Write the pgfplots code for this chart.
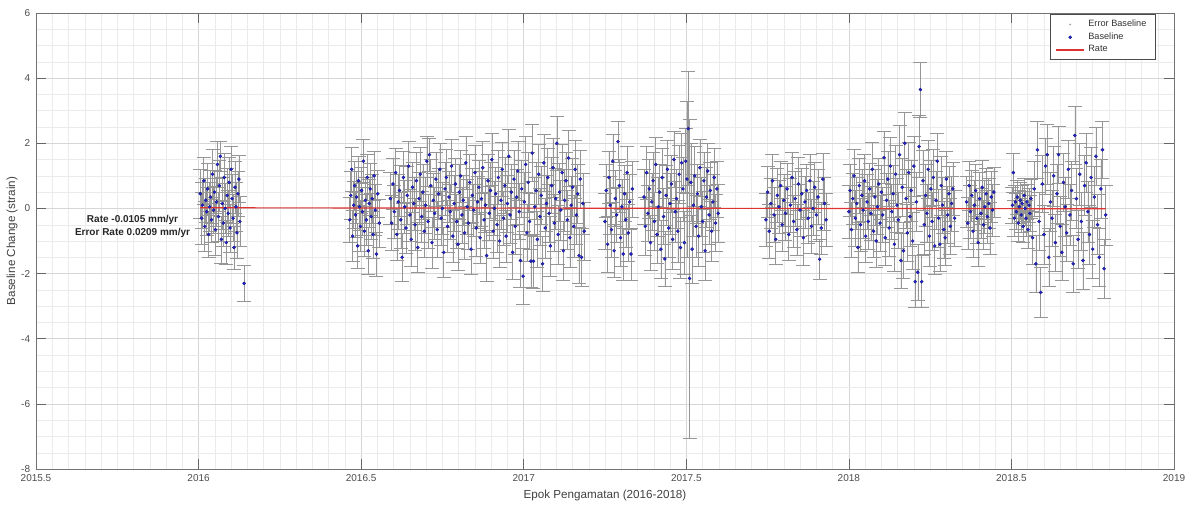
\documentclass[border=0pt]{standalone}
\usepackage{fontspec}
\setmainfont{Liberation Sans}
\usepackage{pgfplots}
\usepackage{pgfplotstable}
\pgfplotsset{compat=1.18}

\definecolor{ratered}{RGB}{225,50,50}
\definecolor{dotblue}{RGB}{35,35,215}
\definecolor{errgray}{RGB}{150,150,150}

% x = epoch (year), y = baseline change, e = error
\pgfplotstableread[row sep=\\]{
x y e\\
2016.005 0.45 0.75\\ 2016.009 -0.30 0.80\\ 2016.012 0.10 0.70\\ 2016.016 0.85 0.72\\ 2016.019 -0.55 0.78\\
2016.022 0.25 0.68\\ 2016.025 -0.10 0.74\\ 2016.028 0.60 0.80\\ 2016.031 -0.80 0.70\\ 2016.034 0.05 0.76\\
2016.037 0.35 0.82\\ 2016.040 -0.35 0.70\\ 2016.043 1.05 0.78\\ 2016.046 -0.05 0.72\\ 2016.049 0.50 0.66\\
2016.052 -0.65 0.80\\ 2016.055 0.20 0.74\\ 2016.058 1.35 0.70\\ 2016.061 -0.25 0.76\\ 2016.064 0.70 0.78\\
2016.067 1.60 0.45\\ 2016.070 -0.95 0.72\\ 2016.073 0.15 0.80\\ 2016.076 -0.45 0.70\\ 2016.079 0.95 0.74\\
2016.082 0.00 0.76\\ 2016.085 -1.05 0.68\\ 2016.088 0.40 0.82\\ 2016.091 -0.15 0.72\\ 2016.094 0.80 0.78\\
2016.097 -0.60 0.74\\ 2016.100 1.20 0.70\\ 2016.103 0.30 0.76\\ 2016.106 -0.30 0.72\\ 2016.109 -1.20 0.66\\
2016.112 0.65 0.80\\ 2016.115 0.05 0.74\\ 2016.118 -0.75 0.78\\ 2016.121 0.45 0.70\\ 2016.124 0.90 0.72\\
2016.127 -0.40 0.76\\ 2016.140 -2.30 0.55\\
2016.465 -0.35 0.70\\ 2016.468 0.40 0.74\\ 2016.471 1.20 0.68\\ 2016.474 -0.85 0.78\\ 2016.477 0.10 0.72\\
2016.480 0.70 0.76\\ 2016.483 -0.20 0.70\\ 2016.486 0.35 0.80\\ 2016.489 -1.15 0.70\\ 2016.492 0.85 0.74\\
2016.495 0.05 0.72\\ 2016.498 -0.55 0.78\\ 2016.501 0.55 0.70\\ 2016.504 -0.10 0.74\\ 2016.507 1.45 0.66\\
2016.510 -0.70 0.76\\ 2016.513 0.25 0.72\\ 2016.516 -0.35 0.78\\ 2016.519 0.95 0.70\\ 2016.522 -1.30 0.72\\
2016.525 0.15 0.74\\ 2016.528 0.60 0.80\\ 2016.531 -0.25 0.70\\ 2016.534 0.30 0.76\\ 2016.537 -0.80 0.72\\
2016.540 1.00 0.74\\ 2016.543 -0.05 0.78\\ 2016.547 -1.40 0.68\\ 2016.551 0.45 0.72\\ 2016.556 -0.45 0.74\\
2016.590 0.30 0.80\\ 2016.594 -0.45 0.85\\ 2016.598 0.75 0.78\\ 2016.602 -0.10 0.82\\ 2016.606 1.10 0.76\\
2016.610 -0.80 0.80\\ 2016.614 0.20 0.84\\ 2016.618 0.55 0.78\\ 2016.622 -0.35 0.86\\ 2016.626 -1.50 0.74\\
2016.630 0.95 0.80\\ 2016.634 0.05 0.82\\ 2016.638 -0.60 0.78\\ 2016.642 0.40 0.88\\ 2016.646 1.30 0.76\\
2016.650 -0.20 0.80\\ 2016.654 -0.95 0.84\\ 2016.658 0.65 0.78\\ 2016.662 0.15 0.82\\ 2016.666 -0.50 0.80\\
2016.670 0.85 0.86\\ 2016.674 -1.20 0.76\\ 2016.678 0.30 0.80\\ 2016.682 1.05 0.82\\ 2016.686 -0.25 0.78\\
2016.690 0.50 0.84\\ 2016.694 -0.70 0.80\\ 2016.698 0.10 0.86\\ 2016.702 1.45 0.76\\ 2016.706 -0.40 0.82\\
2016.710 1.65 0.50\\ 2016.714 0.70 0.80\\ 2016.718 -1.05 0.78\\ 2016.722 0.25 0.84\\ 2016.726 -0.15 0.80\\
2016.730 0.90 0.82\\ 2016.734 -0.65 0.86\\ 2016.738 0.45 0.78\\ 2016.742 1.20 0.80\\ 2016.746 -0.30 0.84\\
2016.750 0.00 0.80\\ 2016.754 -1.35 0.76\\ 2016.758 0.60 0.82\\ 2016.762 0.95 0.86\\ 2016.766 -0.55 0.80\\
2016.770 0.35 0.78\\ 2016.774 -0.10 0.84\\ 2016.778 1.30 0.82\\ 2016.782 -0.85 0.80\\ 2016.786 0.15 0.86\\
2016.790 0.75 0.78\\ 2016.794 -0.40 0.82\\ 2016.798 -1.10 0.80\\ 2016.802 0.50 0.84\\ 2016.806 1.00 0.80\\
2016.810 -0.20 0.86\\ 2016.814 0.25 0.78\\ 2016.818 -0.75 0.82\\ 2016.822 1.40 0.80\\ 2016.826 0.05 0.84\\
2016.830 -0.45 0.80\\ 2016.834 0.80 0.86\\ 2016.838 -1.25 0.78\\ 2016.842 0.40 0.82\\ 2016.846 -0.05 0.80\\
2016.850 1.10 0.84\\ 2016.854 -0.60 0.86\\ 2016.858 0.20 0.80\\ 2016.862 0.65 0.82\\ 2016.866 -0.90 0.78\\
2016.870 0.30 0.84\\ 2016.874 1.25 0.80\\ 2016.878 -0.35 0.86\\ 2016.882 0.10 0.82\\ 2016.886 -1.45 0.78\\
2016.890 0.85 0.80\\ 2016.894 -0.15 0.84\\ 2016.898 0.55 0.86\\ 2016.902 1.50 0.80\\ 2016.906 -0.70 0.82\\
2016.910 0.00 0.84\\ 2016.914 0.45 0.80\\ 2016.918 -0.50 0.86\\ 2016.922 0.95 0.82\\ 2016.926 -1.00 0.80\\
2016.930 0.25 0.88\\ 2016.934 1.20 0.84\\ 2016.938 -0.30 0.82\\ 2016.942 0.70 0.86\\ 2016.946 -0.85 0.80\\
2016.950 0.15 0.88\\ 2016.954 1.60 0.82\\ 2016.958 -0.20 0.86\\ 2016.962 0.50 0.84\\ 2016.966 -1.35 0.82\\
2016.970 0.90 0.88\\ 2016.974 -0.55 0.86\\ 2016.978 0.35 0.84\\ 2016.982 1.15 0.90\\ 2016.986 -0.10 0.86\\
2016.990 -1.60 0.82\\ 2016.994 0.60 0.88\\ 2016.998 -2.08 0.85\\ 2017.002 0.20 0.90\\ 2017.006 1.35 0.86\\
2017.010 -0.75 0.88\\ 2017.014 0.80 0.92\\ 2017.018 -0.40 0.86\\ 2017.022 -1.62 0.80\\ 2017.026 1.70 0.88\\
2017.030 -1.62 0.84\\ 2017.034 0.05 0.90\\ 2017.038 0.55 0.88\\ 2017.042 -0.95 0.86\\ 2017.046 1.05 0.92\\
2017.050 -0.25 0.88\\ 2017.054 0.40 0.90\\ 2017.058 -1.70 0.84\\ 2017.062 1.40 0.88\\ 2017.066 -0.60 0.92\\
2017.070 0.15 0.86\\ 2017.074 0.95 0.90\\ 2017.078 -0.15 0.88\\ 2017.082 -1.15 0.92\\ 2017.086 0.70 0.86\\
2017.090 1.25 0.90\\ 2017.094 -0.45 0.88\\ 2017.098 0.30 0.94\\ 2017.102 2.00 0.82\\ 2017.106 -0.80 0.90\\
2017.110 0.50 0.88\\ 2017.114 -0.05 0.92\\ 2017.118 1.10 0.86\\ 2017.122 -1.30 0.90\\ 2017.126 0.25 0.94\\
2017.130 0.85 0.88\\ 2017.134 -0.35 0.90\\ 2017.138 1.55 0.86\\ 2017.142 -0.90 0.92\\ 2017.146 0.10 0.88\\
2017.150 0.65 0.90\\ 2017.154 -0.55 0.94\\ 2017.158 1.20 0.88\\ 2017.162 -0.20 0.90\\ 2017.166 0.45 0.92\\
2017.170 -1.45 0.86\\ 2017.174 0.90 0.90\\ 2017.178 -1.50 0.88\\ 2017.182 0.15 0.94\\ 2017.186 -0.70 0.90\\
2017.250 -0.40 0.85\\ 2017.254 0.55 0.82\\ 2017.258 -1.10 0.86\\ 2017.262 0.95 0.80\\ 2017.266 0.10 0.88\\
2017.270 -0.65 0.84\\ 2017.274 1.45 0.82\\ 2017.278 -1.30 0.80\\ 2017.282 0.30 0.86\\ 2017.286 -0.20 0.84\\
2017.290 2.05 0.62\\ 2017.294 0.70 0.82\\ 2017.298 -0.90 0.88\\ 2017.302 0.05 0.84\\ 2017.306 -1.40 0.80\\
2017.310 0.45 0.86\\ 2017.314 -0.35 0.84\\ 2017.318 1.10 0.82\\ 2017.322 -0.75 0.88\\ 2017.326 0.20 0.84\\
2017.330 -1.40 0.80\\ 2017.334 0.60 0.86\\
2017.370 0.35 0.85\\ 2017.374 -0.55 0.88\\ 2017.378 1.10 0.82\\ 2017.382 -0.15 0.86\\ 2017.386 0.60 0.90\\
2017.390 -1.05 0.84\\ 2017.394 0.20 0.88\\ 2017.398 0.85 0.86\\ 2017.402 -0.40 0.90\\ 2017.406 1.35 0.84\\
2017.410 -0.80 0.88\\ 2017.414 0.05 0.92\\ 2017.418 0.50 0.86\\ 2017.422 -1.25 0.88\\ 2017.426 0.95 0.90\\
2017.430 -0.25 0.86\\ 2017.434 -1.55 0.84\\ 2017.438 0.40 0.92\\ 2017.442 1.20 0.88\\ 2017.446 -0.60 0.90\\
2017.450 0.15 0.94\\ 2017.454 0.75 0.88\\ 2017.458 -0.95 0.92\\ 2017.462 1.50 0.86\\ 2017.466 -0.10 0.94\\
2017.470 0.30 0.90\\ 2017.474 -0.70 0.96\\ 2017.478 1.05 0.90\\ 2017.482 -1.20 0.94\\ 2017.486 1.40 0.92\\
2017.490 0.60 0.98\\ 2017.494 -1.05 0.96\\ 2017.498 1.45 1.00\\ 2017.502 0.90 2.40\\ 2017.506 2.45 1.75\\
2017.510 -2.15 4.90\\ 2017.514 0.80 1.20\\ 2017.518 -1.25 1.05\\ 2017.522 0.10 0.96\\ 2017.526 1.00 0.92\\
2017.530 -0.55 0.94\\ 2017.534 0.45 0.90\\ 2017.538 -0.85 0.92\\ 2017.542 1.25 0.88\\ 2017.546 0.05 0.90\\
2017.550 -0.40 0.94\\ 2017.554 0.85 0.88\\ 2017.558 -1.30 0.90\\ 2017.562 0.35 0.92\\ 2017.566 1.15 0.86\\
2017.570 -0.20 0.90\\ 2017.574 0.55 0.88\\ 2017.578 -0.70 0.92\\ 2017.582 0.20 0.86\\ 2017.586 0.95 0.90\\
2017.590 -0.45 0.88\\ 2017.594 0.60 0.86\\ 2017.598 -0.15 0.90\\
2017.745 -0.35 0.80\\ 2017.750 0.50 0.78\\ 2017.755 -0.70 0.82\\ 2017.760 0.15 0.76\\ 2017.765 0.85 0.80\\
2017.770 -0.20 0.84\\ 2017.775 -0.95 0.78\\ 2017.780 0.40 0.82\\ 2017.785 0.05 0.80\\ 2017.790 0.70 0.76\\
2017.795 -0.50 0.82\\ 2017.800 0.25 0.80\\ 2017.805 -0.15 0.84\\ 2017.810 0.60 0.78\\ 2017.815 -0.80 0.80\\
2017.820 0.10 0.82\\ 2017.825 0.95 0.76\\ 2017.830 -0.40 0.80\\ 2017.835 0.30 0.84\\ 2017.840 -0.65 0.78\\
2017.845 0.75 0.82\\ 2017.850 -0.05 0.80\\ 2017.855 0.45 0.78\\ 2017.860 -0.90 0.84\\ 2017.865 0.20 0.80\\
2017.870 0.55 0.82\\ 2017.875 -0.30 0.78\\ 2017.880 0.85 0.80\\ 2017.885 -0.55 0.84\\ 2017.890 0.00 0.82\\
2017.895 0.65 0.78\\ 2017.900 -0.20 0.80\\ 2017.905 0.35 0.84\\ 2017.910 -1.56 0.62\\ 2017.915 -0.60 0.80\\
2017.920 0.90 0.78\\ 2017.925 0.15 0.82\\ 2017.930 -0.35 0.80\\
2018.000 -0.10 0.82\\ 2018.004 0.55 0.80\\ 2018.008 -0.65 0.84\\ 2018.012 0.30 0.78\\ 2018.016 1.00 0.82\\
2018.020 -0.30 0.86\\ 2018.024 0.15 0.80\\ 2018.028 -1.20 0.76\\ 2018.032 0.70 0.84\\ 2018.036 -0.50 0.82\\
2018.040 0.40 0.80\\ 2018.044 -0.05 0.86\\ 2018.048 0.85 0.82\\ 2018.052 -0.85 0.80\\ 2018.056 0.20 0.84\\
2018.060 -0.40 0.86\\ 2018.064 0.60 0.80\\ 2018.068 -0.15 0.82\\ 2018.072 1.20 0.84\\ 2018.076 -0.70 0.80\\
2018.080 0.35 0.86\\ 2018.084 -1.00 0.82\\ 2018.088 0.05 0.84\\ 2018.092 0.75 0.80\\ 2018.096 -0.45 0.86\\
2018.100 0.50 0.82\\ 2018.104 -0.20 0.84\\ 2018.108 1.56 0.80\\ 2018.112 -0.90 0.86\\ 2018.116 0.25 0.82\\
2018.120 0.90 0.84\\ 2018.124 -0.60 0.86\\ 2018.128 1.30 0.88\\ 2018.132 -0.10 0.84\\ 2018.136 0.45 0.86\\
2018.140 -1.10 0.82\\ 2018.144 1.05 0.88\\ 2018.148 0.10 0.84\\ 2018.152 -0.35 0.86\\ 2018.156 1.65 0.90\\
2018.160 -1.60 0.84\\ 2018.164 0.65 0.88\\ 2018.168 -1.30 0.86\\ 2018.172 2.00 0.95\\ 2018.176 0.30 0.90\\
2018.180 -0.75 0.88\\ 2018.184 1.10 0.92\\ 2018.188 -0.25 0.90\\ 2018.192 0.55 0.94\\ 2018.196 -1.00 0.88\\
2018.200 1.30 0.92\\ 2018.204 -2.25 0.80\\ 2018.208 0.20 0.90\\ 2018.212 -1.96 0.85\\ 2018.216 1.90 0.95\\
2018.220 3.65 0.85\\ 2018.224 -2.25 0.80\\ 2018.228 0.85 0.92\\ 2018.232 -0.50 0.90\\ 2018.236 0.40 0.94\\
2018.240 -0.15 0.88\\ 2018.244 1.20 0.90\\ 2018.248 -0.85 0.92\\ 2018.252 0.60 0.88\\ 2018.256 -0.40 0.90\\
2018.260 0.95 0.86\\ 2018.264 -1.15 0.88\\ 2018.268 0.25 0.90\\ 2018.272 1.45 0.86\\ 2018.276 -0.30 0.88\\
2018.280 -1.10 0.84\\ 2018.284 0.70 0.90\\ 2018.288 0.10 0.86\\ 2018.292 -0.65 0.88\\ 2018.296 -0.90 0.84\\
2018.300 0.90 0.86\\ 2018.304 -0.20 0.88\\ 2018.308 0.45 0.84\\ 2018.312 -0.55 0.86\\ 2018.316 0.15 0.84\\
2018.320 0.60 0.82\\ 2018.325 -0.30 0.86\\
2018.362 0.20 0.78\\ 2018.366 -0.45 0.80\\ 2018.370 0.70 0.76\\ 2018.374 -0.10 0.82\\ 2018.378 0.40 0.78\\
2018.382 -0.70 0.80\\ 2018.386 0.10 0.76\\ 2018.390 0.55 0.80\\ 2018.394 -0.30 0.78\\ 2018.398 -1.05 0.74\\
2018.402 0.30 0.80\\ 2018.406 -0.15 0.78\\ 2018.410 0.65 0.82\\ 2018.414 -0.50 0.76\\ 2018.418 0.05 0.80\\
2018.422 0.45 0.78\\ 2018.426 -0.25 0.82\\ 2018.430 0.15 0.76\\ 2018.434 -0.60 0.80\\ 2018.438 0.35 0.78\\
2018.442 -0.05 0.80\\ 2018.446 0.50 0.76\\
2018.503 0.10 0.55\\ 2018.506 1.10 0.60\\ 2018.509 -0.30 0.55\\ 2018.512 0.20 0.50\\ 2018.515 -0.10 0.55\\
2018.518 0.35 0.52\\ 2018.521 -0.45 0.56\\ 2018.524 0.05 0.50\\ 2018.527 0.25 0.54\\ 2018.530 -0.20 0.52\\
2018.533 0.15 0.56\\ 2018.536 -0.55 0.50\\ 2018.539 0.40 0.54\\ 2018.542 0.00 0.52\\ 2018.545 -0.30 0.56\\
2018.548 0.20 0.54\\ 2018.551 -0.65 0.58\\ 2018.554 0.10 0.52\\ 2018.557 -0.15 0.56\\ 2018.560 0.30 0.60\\
2018.565 -0.90 0.80\\ 2018.570 0.60 0.84\\ 2018.575 -1.70 0.86\\ 2018.580 1.80 0.88\\ 2018.585 -0.40 0.90\\
2018.590 -2.58 0.77\\ 2018.595 0.75 0.88\\ 2018.600 -0.80 0.90\\ 2018.605 1.30 0.86\\ 2018.610 1.65 0.92\\
2018.615 -1.50 0.88\\ 2018.620 0.20 0.90\\ 2018.625 -0.30 0.86\\ 2018.630 1.00 0.92\\ 2018.635 -1.05 0.88\\
2018.640 0.45 0.90\\ 2018.645 1.65 0.88\\ 2018.650 -0.55 0.92\\ 2018.655 -1.35 0.86\\ 2018.660 0.80 0.90\\
2018.665 0.05 0.92\\ 2018.670 -0.75 0.88\\ 2018.675 1.20 0.90\\ 2018.680 -0.20 0.94\\ 2018.685 0.55 0.90\\
2018.690 -1.70 0.86\\ 2018.695 2.24 0.90\\ 2018.700 0.30 0.92\\ 2018.705 -0.95 0.90\\ 2018.710 1.05 0.94\\
2018.715 -0.40 0.90\\ 2018.720 -1.60 0.88\\ 2018.725 0.70 0.92\\ 2018.730 1.40 0.90\\ 2018.735 -0.10 0.94\\
2018.740 -0.80 0.90\\ 2018.745 0.95 0.92\\ 2018.750 -1.25 0.88\\ 2018.755 0.35 0.94\\ 2018.760 1.60 0.90\\
2018.765 -0.50 0.92\\ 2018.770 -1.50 0.88\\ 2018.775 0.60 0.90\\ 2018.780 1.80 0.88\\ 2018.785 -1.85 0.90\\
2018.790 -0.20 0.92\\
}\obsdata

\begin{document}
\begin{tikzpicture}
\begin{axis}[
  name=ax,
  scale only axis,
  width=682.8pt, height=273.6pt,
  xmin=2015.5, xmax=2019, ymin=-8, ymax=6,
  xtick={2015.5,2016,2016.5,2017,2017.5,2018,2018.5,2019},
  ytick={-8,-6,-4,-2,0,2,4,6},
  minor x tick num=9, minor y tick num=3,
  grid=both,
  major grid style={draw=black!16, line width=0.3pt},
  minor grid style={draw=black!8, line width=0.25pt},
  tick align=inside,
  major tick length=6pt, minor tick length=0pt,
  axis line style={draw=black!55, line width=0.4pt},
  every tick/.style={draw=black!60, line width=0.4pt},
  /pgf/number format/assume math mode=true,
  xticklabel style={/pgf/number format/.cd, fixed, precision=1, 1000 sep={}},
  ticklabel style={font=\fontsize{6}{7}\selectfont, text=black!70},
  xlabel={Epok Pengamatan (2016-2018)},
  ylabel={Baseline Change (strain)},
  label style={font=\fontsize{7}{8}\selectfont, text=black!75},
  xlabel style={at={(axis description cs:0.5,-0.057)}, anchor=center},
  ylabel style={at={(axis description cs:-0.0211,0.5)}, anchor=center},
  legend cell align=left,
  legend style={at={(rel axis cs:1,1)}, anchor=north east, xshift=-11.4pt, yshift=-0.8pt,
    font=\fontsize{5.5}{6.5}\selectfont, draw=black!70, line width=0.3pt,
    inner xsep=3pt, inner ysep=1.2pt, row sep=-1.8pt, text=black!80},
]
\addplot[only marks, mark=*, mark size=0.35pt, draw=errgray, fill=errgray,
  error bars/.cd, y dir=both, y explicit, error mark=-,
  error mark options={rotate=90, mark size=4.2pt, line width=0.35pt, draw=errgray},
  error bar style={line width=0.35pt, draw=errgray}]
  table[x=x, y=y, y error=e]{\obsdata};
\addlegendentry{Error Baseline}
\addplot[only marks, mark=*, mark size=0.95pt, draw=dotblue!60!black, fill=dotblue, line width=0.2pt]
  table[x=x, y=y]{\obsdata};
\addlegendentry{Baseline}
\addplot[draw=ratered, line width=0.7pt] coordinates {(2016.005,0.02) (2018.79,-0.01)};
\addlegendentry{Rate}
\node[font=\bfseries\fontsize{6}{7.6}\selectfont, align=center, text=black!85]
  at (axis cs:2015.797,-0.55) {Rate -0.0105 mm/yr\\Error Rate 0.0209 mm/yr};
\end{axis}
\pgfresetboundingbox
\path ([shift={(-21.6pt,-22.2pt)}]ax.south west) rectangle ([shift={(9.6pt,7.8pt)}]ax.north east);
\end{tikzpicture}
\end{document}
